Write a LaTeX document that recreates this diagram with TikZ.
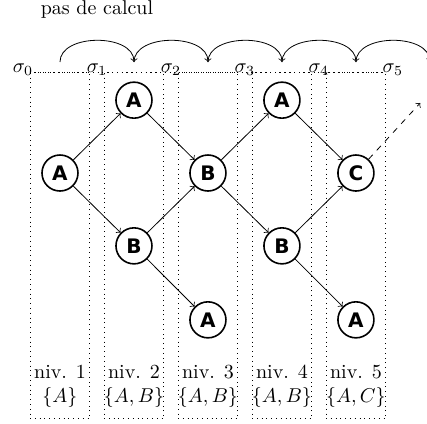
\documentclass[tikz,border=0pt]{standalone}
\usepackage{amsmath,amssymb}
\usepackage{fontspec}
\setsansfont{DejaVu Sans}
\usepackage{tikz}
\usetikzlibrary{positioning, arrows}

\begin{document}
\begin{tikzpicture}[
        etat/.style={circle, draw, line width=0.8pt, minimum size=18pt, inner sep=0pt, font=\sffamily\bfseries},
        colonne/.style={draw, dotted}]
        \useasboundingbox (-1.054,-4.393) rectangle (6.449,3.04);
        % Dotted columns
        \draw[colonne] (-0.52,1.76) rectangle (0.52,-4.32);
        \draw[colonne] (0.78,1.76) rectangle (1.82,-4.32);
        \draw[colonne] (2.08,1.76) rectangle (3.12,-4.32);
        \draw[colonne] (3.38,1.76) rectangle (4.42,-4.32);
        \draw[colonne] (4.68,1.76) rectangle (5.72,-4.32);
        \draw[colonne] (-0.52,1.76) -- (5.72,1.76);
        % Labels of the steps
        \node (titre) at (0.65,2.88) {pas de calcul};
        \node[anchor=base] (s0) at (-0.65,1.76) {$\sigma_0$};
        \node[anchor=base] (s1) at (0.65,1.76) {$\sigma_1$};
        \node[anchor=base] (s2) at (1.95,1.76) {$\sigma_2$};
        \node[anchor=base] (s3) at (3.25,1.76) {$\sigma_3$};
        \node[anchor=base] (s4) at (4.55,1.76) {$\sigma_4$};
        \node[anchor=base] (s5) at (5.85,1.76) {$\sigma_5$};
        % Arcs between steps
        \coordinate (p0) at (0,1.95);
        \coordinate (p1) at (1.3,1.95);
        \coordinate (p2) at (2.6,1.95);
        \coordinate (p3) at (3.9,1.95);
        \coordinate (p4) at (5.2,1.95);
        \coordinate (p5) at (6.5,1.95);
        \draw[->] (p0) to[out=90,in=90] (p1);
        \draw[->] (p1) to[out=90,in=90] (p2);
        \draw[->] (p2) to[out=90,in=90] (p3);
        \draw[->] (p3) to[out=90,in=90] (p4);
        \draw[->] (p4) to[out=90,in=90] (p5);
        % States
        \node[etat] (a1) at (0,0) {A};
        \node[etat] (a2) at (1.3,1.28) {A};
        \node[etat] (b2) at (1.3,-1.28) {B};
        \node[etat] (b3) at (2.6,0) {B};
        \node[etat] (a3) at (2.6,-2.58) {A};
        \node[etat] (a4) at (3.9,1.28) {A};
        \node[etat] (b4) at (3.9,-1.28) {B};
        \node[etat] (c5) at (5.2,0) {C};
        \node[etat] (a5) at (5.2,-2.58) {A};
        \coordinate (suite) at (6.33,1.23);
        % Transitions
        \draw[->] (a1) -- (a2);
        \draw[->] (a1) -- (b2);
        \draw[->] (a2) -- (b3);
        \draw[->] (b2) -- (b3);
        \draw[->] (b2) -- (a3);
        \draw[->] (b3) -- (a4);
        \draw[->] (b3) -- (b4);
        \draw[->] (a4) -- (c5);
        \draw[->] (b4) -- (c5);
        \draw[->] (b4) -- (a5);
        \draw[->, dashed] (c5) -- (suite);
        % Levels
        \node[align=center] (n1) at (0,-3.75) {niv. 1\\$\{A\}$};
        \node[align=center] (n2) at (1.3,-3.75) {niv. 2\\$\{A,B\}$};
        \node[align=center] (n3) at (2.6,-3.75) {niv. 3\\$\{A,B\}$};
        \node[align=center] (n4) at (3.9,-3.75) {niv. 4\\$\{A,B\}$};
        \node[align=center] (n5) at (5.2,-3.75) {niv. 5\\$\{A,C\}$};
\end{tikzpicture}
\end{document}
